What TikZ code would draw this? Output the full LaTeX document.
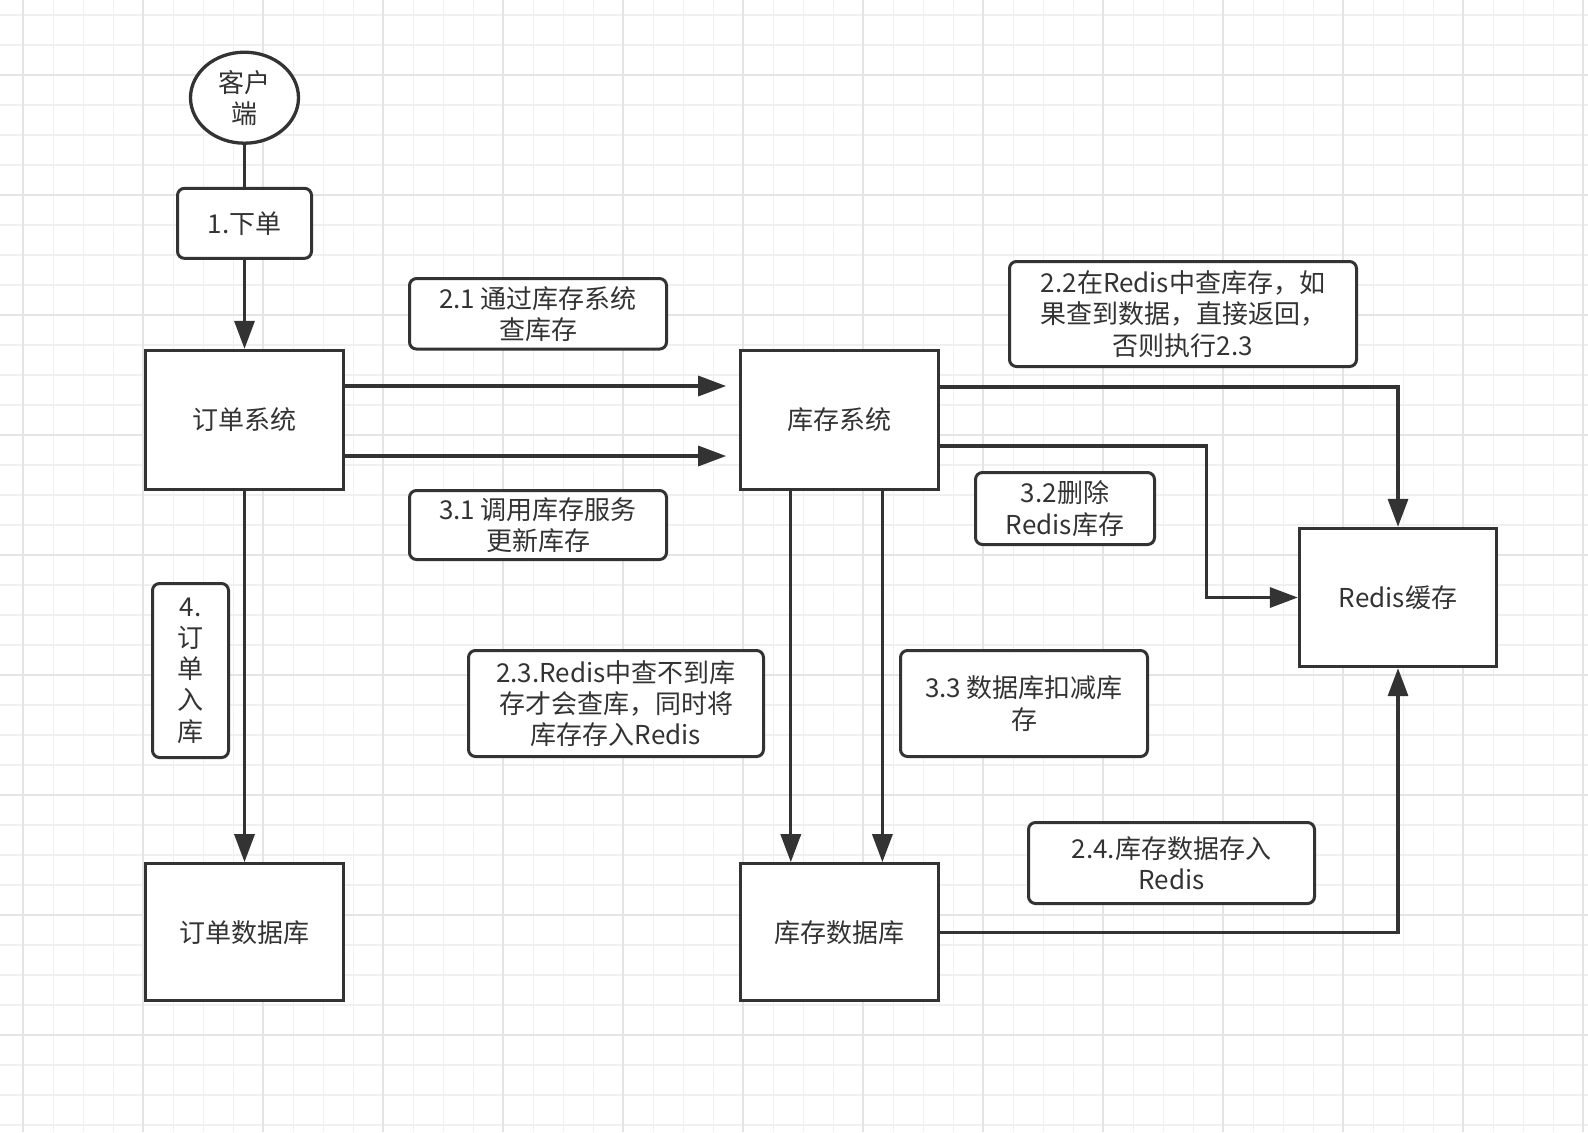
\documentclass[tikz,border=0pt]{standalone}
\usepackage{fontspec}
\setmainfont{Noto Sans CJK SC}
\usetikzlibrary{
  arrows.meta,
  backgrounds,
  positioning,
  shapes.geometric
}
\definecolor{Ink}{HTML}{333333}
\definecolor{GridMinor}{HTML}{F0F0F0}
\definecolor{GridMajor}{HTML}{E4E4E4}
\newcommand{\diagramtextfont}{\fontsize{13}{15.6}\selectfont}
\tikzset{
  % Global typography and reusable box geometry.
  every node/.style={font=\diagramtextfont, text=Ink},
  system box/.style={
    draw=Ink,
    line width=1.65pt,
    fill=white,
    align=center,
    minimum width=99pt,
    minimum height=69.5pt,
    inner sep=0pt
  },
  client node/.style={
    ellipse,
    draw=Ink,
    line width=1.65pt,
    fill=white,
    align=center,
    minimum width=54pt,
    minimum height=45.5pt,
    inner sep=0pt
  },
  step label/.style={
    draw=Ink,
    rounded corners=3.5pt,
    line width=1.5pt,
    fill=white,
    align=center,
    inner sep=0pt
  },
  link/.style={
    draw=Ink,
    line width=1.65pt
  },
  flow/.style={
    -{Triangle[length=14pt,width=10pt]},
    draw=Ink,
    line width=1.65pt
  },
  grid minor/.style={draw=GridMinor, line width=0.8pt},
  grid major/.style={draw=GridMajor, line width=1pt}
}

\begin{document}
\begin{tikzpicture}[x=0.5pt, y=-0.5pt]
\useasboundingbox (0,0) rectangle (1588,1132);

% ---------------------------------------------------------------------------
% Paper grid
% ---------------------------------------------------------------------------
\begin{scope}[on background layer]
  \fill[white] (0,0) rectangle (1588,1132);
  \foreach \k in {0,...,52}{
    \draw[grid minor] (23.3+30*\k,0) -- (23.3+30*\k,1132);
  }
  \foreach \k in {0,...,37}{
    \draw[grid minor] (0,15+30*\k) -- (1588,15+30*\k);
  }
  \foreach \k in {0,...,13}{
    \draw[grid major] (23.3+120*\k,0) -- (23.3+120*\k,1132);
  }
  \foreach \k in {0,...,8}{
    \draw[grid major] (0,75+120*\k) -- (1588,75+120*\k);
  }
\end{scope}

% ---------------------------------------------------------------------------
% Systems and stores
% ---------------------------------------------------------------------------
\node[system box] (orderSys) at (244.5,420) {订单系统};
\node[system box, right=197pt of orderSys] (stockSys) {库存系统};
\node[system box, minimum height=68.5pt, below=185.5pt of orderSys] (orderDB) {订单数据库};
\node[system box, minimum height=68.5pt, below=185.5pt of stockSys] (stockDB) {库存数据库};
\node[system box, minimum width=98.5pt, minimum height=69pt] (redis) at (1398,597.5) {Redis缓存};

\node[step label, minimum width=67pt, minimum height=35pt, above=44.5pt of orderSys] (placeOrder) {1.下单};
\node[client node, above=21pt of placeOrder] (client) {客户\\端};

% ---------------------------------------------------------------------------
% Step labels
% ---------------------------------------------------------------------------
\node[step label, minimum width=128.5pt, minimum height=35.25pt] (queryLabel) at (538,313.8)
  {2.1 通过库存系统\\查库存};
\node[step label, minimum width=128.5pt, minimum height=34.5pt] (updateLabel) at (538,525)
  {3.1 调用库存服务\\更新库存};
\node[step label, minimum width=173.5pt, minimum height=52.5pt] (cacheLabel) at (1183,314)
  {2.2在Redis中查库存，如\\果查到数据，直接返回，\\否则执行2.3};
\node[step label, minimum width=89.5pt, minimum height=36pt] (deleteLabel) at (1065,508.5)
  {3.2删除\\Redis库存};
\node[step label, minimum width=147.5pt, minimum height=53pt] (missLabel) at (616,703.5)
  {2.3.Redis中查不到库\\存才会查库，同时将\\库存存入Redis};
\node[step label, minimum width=123.5pt, minimum height=53pt] (deductLabel) at (1024,703.5)
  {3.3 数据库扣减库\\存};
\node[step label, minimum width=143pt, minimum height=40.5pt] (fillLabel) at (1171.5,863)
  {2.4.库存数据存入\\Redis};
\node[step label, minimum width=38pt, minimum height=87pt] (saveLabel) at (190.5,670.5)
  {4.\\订\\单\\入\\库};

% ---------------------------------------------------------------------------
% Connectors
% ---------------------------------------------------------------------------
\draw[link] (client) -- (placeOrder);
\draw[flow] (placeOrder) -- (orderSys);
\draw[flow] (orderSys) -- (orderDB);

\draw[flow] ([yshift=17pt]orderSys.east) -- ([yshift=17pt,xshift=-6.5pt]stockSys.west);
\draw[flow] ([yshift=-18pt]orderSys.east) -- ([yshift=-18pt,xshift=-6.5pt]stockSys.west);

\draw[flow] ([yshift=16.5pt]stockSys.east) -| (redis.north);
\coordinate (cacheTurn) at ([xshift=133pt,yshift=-13pt]stockSys.east);
\draw[flow] ([yshift=-13pt]stockSys.east) -- (cacheTurn) |- (redis.west);

\draw[flow] ([xshift=-24.5pt]stockSys.south) -- ([xshift=-24.5pt]stockDB.north);
\draw[flow] ([xshift=21.3pt]stockSys.south) -- ([xshift=21.3pt]stockDB.north);

\draw[flow] (stockDB.east) -| (redis.south);

\end{tikzpicture}
\end{document}
